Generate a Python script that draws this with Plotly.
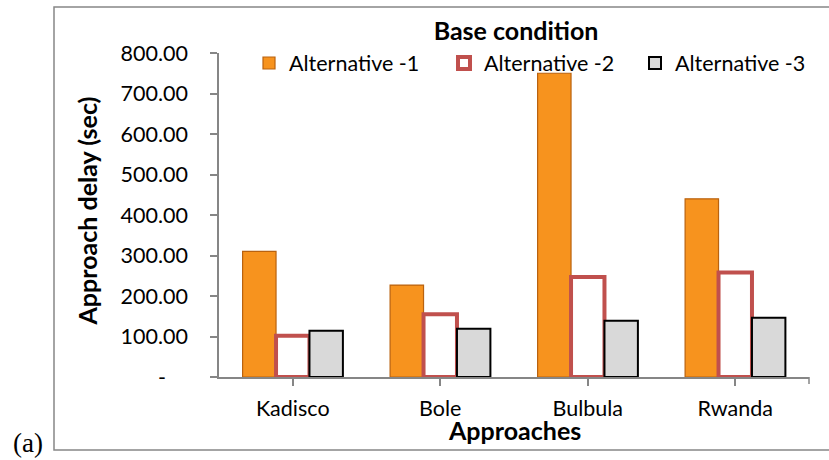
import plotly.graph_objects as go

categories = ["Kadisco", "Bole", "Bulbula", "Rwanda"]
series_names = ["Alternative -1", "Alternative -2", "Alternative -3"]
alt1 = [310, 227, 750, 440]
alt2 = [102, 155, 247, 258]
alt3 = [114, 119, 139, 146]
y_tick_vals = [0, 100, 200, 300, 400, 500, 600, 700, 800]
y_tick_text = ["-\u00a0\u00a0\u00a0\u00a0", "100.00", "200.00", "300.00", "400.00",
               "500.00", "600.00", "700.00", "800.00"]

FONT = "Lato, Noto Sans, sans-serif"
TXT = 21.5
BOLD = 25

fig = go.Figure()
fig.add_trace(go.Bar(x=categories, y=alt1, name=series_names[0], legend="legend",
                     marker=dict(color="#F7931E", line=dict(color="#B9620F", width=1.2))))
fig.add_trace(go.Bar(x=categories, y=alt2, name=series_names[1], legend="legend2",
                     marker=dict(color="#FFFFFF", line=dict(color="#C0504D", width=4))))
fig.add_trace(go.Bar(x=categories, y=alt3, name=series_names[2], legend="legend3",
                     marker=dict(color="#D9D9D9", line=dict(color="#000000", width=2))))

def leg(px):
    return dict(orientation="h", x=(px - 219) / 590, xanchor="left",
                y=(377 - 63) / 324, yanchor="middle",
                font=dict(size=TXT), itemwidth=30,
                bgcolor="rgba(0,0,0,0)")

fig.update_layout(
    width=829, height=460,
    margin=dict(l=219, r=20, t=53, b=83),
    paper_bgcolor="white", plot_bgcolor="white",
    barmode="group", bargap=0.32, bargroupgap=0.0,
    font=dict(family=FONT, size=TXT, color="#000000"),
    title=dict(text="<b>Base condition</b>", x=516 / 829, xanchor="center",
               y=1 - 31 / 460, yanchor="middle", font=dict(size=BOLD)),
    legend=leg(249), legend2=leg(444), legend3=leg(635),
    showlegend=True,
)

fig.update_xaxes(showline=True, linecolor="#868686", linewidth=1.5,
                 ticks="outside", ticklen=7, tickcolor="#868686", tickwidth=1.5,
                 ticklabelstandoff=4, showgrid=False, tickfont=dict(size=TXT))
fig.update_yaxes(range=[0, 800], showline=True, linecolor="#868686", linewidth=1.5,
                 ticks="outside", ticklen=7, tickcolor="#868686", tickwidth=1.5,
                 tickvals=y_tick_vals, ticktext=y_tick_text, showgrid=False,
                 zeroline=False, ticklabelstandoff=18, tickfont=dict(size=TXT))

# end tick on x axis
fig.add_shape(type="line", xref="paper", yref="paper", x0=1, x1=1, y0=0, y1=-7 / 324,
              line=dict(color="#868686", width=1.5))

# outer chart frame
fig.add_shape(type="rect", xref="paper", yref="paper",
              x0=(54 - 219) / 590, x1=(840 - 219) / 590,
              y0=(377 - 450) / 324, y1=(377 - 7) / 324,
              line=dict(color="#878787", width=1.5), fillcolor="rgba(0,0,0,0)", layer="below")

fig.add_annotation(text="<b>Approach delay (sec)</b>", xref="paper", yref="paper",
                   x=(87 - 219) / 590, y=(377 - 211.5) / 324, textangle=-90, showarrow=False,
                   font=dict(size=BOLD), xanchor="center", yanchor="middle")
fig.add_annotation(text="<b>Approaches</b>", xref="paper", yref="paper",
                   x=(514 - 219) / 590, y=(377 - 430) / 324, showarrow=False,
                   font=dict(size=BOLD), xanchor="center", yanchor="middle")
fig.add_annotation(text="(a)", xref="paper", yref="paper",
                   x=(28 - 219) / 590, y=(377 - 443) / 324, showarrow=False,
                   font=dict(size=27, family="Liberation Serif, serif"),
                   xanchor="center", yanchor="middle")

fig.write_html("out.html")
